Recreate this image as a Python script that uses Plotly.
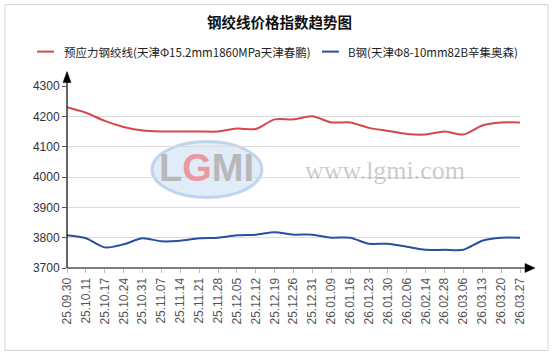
import plotly.graph_objects as go

dates = ["25.09.30", "25.10.11", "25.10.17", "25.10.24", "25.10.31", "25.11.07", "25.11.14",
         "25.11.21", "25.11.28", "25.12.05", "25.12.12", "25.12.19", "25.12.26", "25.12.31",
         "26.01.09", "26.01.16", "26.01.23", "26.01.30", "26.02.06", "26.02.14", "26.02.28",
         "26.03.06", "26.03.13", "26.03.20", "26.03.27"]
strand = [4230, 4212, 4185, 4165, 4153, 4150, 4150, 4150, 4150, 4160, 4158, 4190, 4190, 4200,
          4180, 4180, 4162, 4152, 4142, 4140, 4150, 4140, 4170, 4180, 4180]
bsteel = [3808, 3798, 3768, 3778, 3798, 3788, 3790, 3798, 3800, 3808, 3810, 3818, 3810, 3810,
          3800, 3800, 3780, 3780, 3770, 3760, 3760, 3760, 3790, 3800, 3800]
name1 = "预应力钢绞线(天津Φ15.2mm1860MPa天津春鹏)"
name2 = "B钢(天津Φ8-10mm82B辛集奥森)"
title = "钢绞线价格指数趋势图"
yticks = [3700, 3800, 3900, 4000, 4100, 4200, 4300]

W, H = 554, 356
L, R, T, B = 67, 520, 86.4, 268.5

def px(x):
    return (x - L) / (R - L)

def py(y):
    return (B - y) / (B - T)

RED = "#d4484a"
BLUE = "#2b4ea3"
FONT = "Liberation Sans, Arial, Noto Sans CJK SC, sans-serif"
CJK = "Noto Sans CJK SC, Liberation Sans, sans-serif"

fig = go.Figure()
fig.add_trace(go.Scatter(x=dates, y=strand, mode="lines", name=name1,
                         line=dict(color=RED, width=2, shape="spline", smoothing=0.8)))
fig.add_trace(go.Scatter(x=dates, y=bsteel, mode="lines", name=name2,
                         line=dict(color=BLUE, width=2, shape="spline", smoothing=0.8)))

shapes = []
# outer border
shapes.append(dict(type="rect", xref="paper", yref="paper", x0=px(5), x1=px(548), y0=py(5), y1=py(351),
                   line=dict(color="#d4d4d4", width=1), layer="below"))
# watermark ellipse
shapes.append(dict(type="circle", xref="paper", yref="paper", x0=px(152), x1=px(262), y0=py(142), y1=py(198),
                   fillcolor="rgba(214,229,246,0.75)", line=dict(color="rgba(180,204,233,0.8)", width=3), layer="below"))
# axes lines
shapes.append(dict(type="line", xref="paper", yref="paper", x0=px(67), x1=px(67), y0=py(B), y1=py(80),
                   line=dict(color="black", width=1.2)))
shapes.append(dict(type="line", xref="paper", yref="paper", x0=px(67), x1=px(530), y0=py(B), y1=py(B),
                   line=dict(color="black", width=1.2)))
# arrowheads
shapes.append(dict(type="path", xref="paper", yref="paper",
                   path=f"M {px(67)},{py(72)} L {px(63)},{py(83)} L {px(71)},{py(83)} Z",
                   fillcolor="black", line=dict(color="black", width=0.5)))
shapes.append(dict(type="path", xref="paper", yref="paper",
                   path=f"M {px(535)},{py(B)} L {px(525)},{py(B-4.5)} L {px(525)},{py(B+4.5)} Z",
                   fillcolor="black", line=dict(color="black", width=0.5)))
# legend lines
LEG_Y = 52
shapes.append(dict(type="line", xref="paper", yref="paper", x0=px(37), x1=px(54), y0=py(LEG_Y), y1=py(LEG_Y),
                   line=dict(color=RED, width=2)))
shapes.append(dict(type="line", xref="paper", yref="paper", x0=px(322), x1=px(339), y0=py(LEG_Y), y1=py(LEG_Y),
                   line=dict(color=BLUE, width=2)))

annotations = [
    dict(text="<b>" + title + "</b>", xref="paper", yref="paper", x=px(279), y=py(22),
         showarrow=False, font=dict(family=CJK, size=14.5, color="#111"), xanchor="center", yanchor="middle"),
    dict(text=name1, xref="paper", yref="paper", x=px(62), y=py(LEG_Y), showarrow=False,
         font=dict(family=CJK, size=11.5, color="#222"), xanchor="left", yanchor="middle"),
    dict(text=name2, xref="paper", yref="paper", x=px(346), y=py(LEG_Y), showarrow=False,
         font=dict(family=CJK, size=11.5, color="#222"), xanchor="left", yanchor="middle"),
    dict(text="<span style='color:#b8b8b8'>L</span><span style='color:#eb98a2'>G</span>"
              "<span style='color:#b8b8b8'>MI</span>",
         xref="paper", yref="paper", x=px(206), y=py(168), showarrow=False,
         font=dict(family="Liberation Sans, Arial, sans-serif", size=38, color="#b8b8b8", weight="bold"),
         xanchor="center", yanchor="middle"),
    dict(text="www.lgmi.com", xref="paper", yref="paper", x=px(385), y=py(171), showarrow=False,
         font=dict(family="Liberation Serif, DejaVu Serif, serif", size=26, color="rgba(170,170,170,0.6)"),
         xanchor="center", yanchor="middle"),
]

fig.update_layout(
    width=W, height=H,
    margin=dict(l=L, r=W - R, t=T, b=H - B, pad=0),
    paper_bgcolor="white", plot_bgcolor="rgba(0,0,0,0)",
    showlegend=False,
    shapes=shapes, annotations=annotations,
    xaxis=dict(type="category", range=[0, len(dates) - 1], showgrid=False, zeroline=False,
               showline=False, ticks="outside", ticklen=4, tickcolor="#bbbbbb",
               tickangle=-90, tickfont=dict(family=FONT, size=12, color="#555"), fixedrange=True),
    yaxis=dict(range=[3700, 4300], tickvals=yticks, showgrid=True, gridcolor="#dcdcdc", gridwidth=1,
               zeroline=False, showline=False, ticks="outside", ticklen=4, tickcolor="#555",
               tickfont=dict(family=FONT, size=12, color="#333"), fixedrange=True),
)

fig.write_html("out.html", config={"displayModeBar": False},
               post_script="document.body.style.margin='0px';document.body.style.overflow='hidden';")
